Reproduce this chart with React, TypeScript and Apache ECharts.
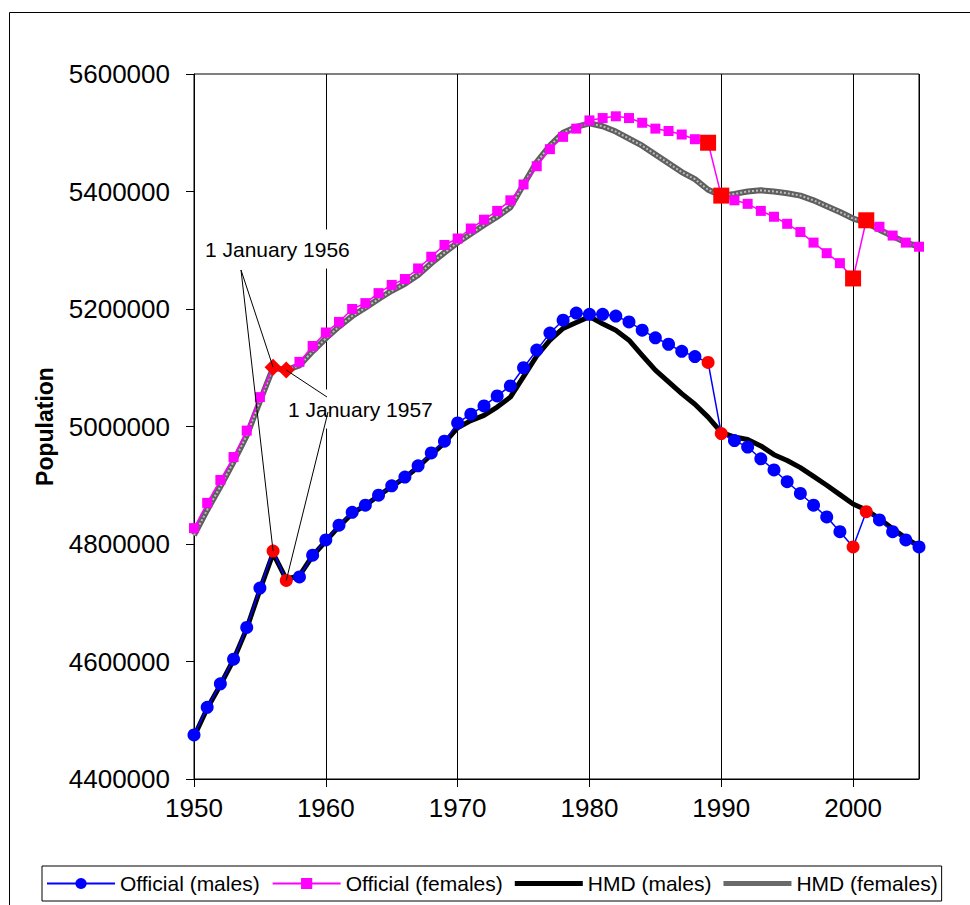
import React, { useEffect, useRef } from 'react';
import * as echarts from 'echarts';

const FONT = "'Liberation Sans', Arial, sans-serif";

const years = [
  1950, 1951, 1952, 1953, 1954, 1955, 1956, 1957, 1958, 1959,
  1960, 1961, 1962, 1963, 1964, 1965, 1966, 1967, 1968, 1969,
  1970, 1971, 1972, 1973, 1974, 1975, 1976, 1977, 1978, 1979,
  1980, 1981, 1982, 1983, 1984, 1985, 1986, 1987, 1988, 1989,
  1990, 1991, 1992, 1993, 1994, 1995, 1996, 1997, 1998, 1999,
  2000, 2001, 2002, 2003, 2004, 2005,
];

const officialMales = [
  4475000, 4522000, 4562000, 4604000, 4658000, 4725000, 4788000, 4738000, 4744000, 4781000,
  4807000, 4832000, 4854000, 4866000, 4883000, 4899000, 4914000, 4933000, 4955000, 4975000,
  5006000, 5021000, 5035000, 5052000, 5069000, 5100000, 5130000, 5159000, 5181000, 5193000,
  5191000, 5191000, 5188000, 5178000, 5164000, 5151000, 5140000, 5128000, 5119000, 5109000,
  4988000, 4976000, 4965000, 4945000, 4926000, 4906000, 4886000, 4866000, 4846000, 4821000,
  4795000, 4855000, 4841000, 4821000, 4807000, 4795000,
];

const officialFemales = [
  4827000, 4870000, 4909000, 4948000, 4993000, 5050000, 5101000, 5096000, 5110000, 5137000,
  5160000, 5178000, 5200000, 5210000, 5227000, 5241000, 5251000, 5269000, 5289000, 5309000,
  5320000, 5337000, 5352000, 5367000, 5385000, 5412000, 5443000, 5472000, 5493000, 5507000,
  5521000, 5525000, 5528000, 5525000, 5517000, 5507000, 5503000, 5497000, 5489000, 5483000,
  5393000, 5385000, 5379000, 5367000, 5357000, 5345000, 5331000, 5313000, 5295000, 5278000,
  5252000, 5351000, 5340000, 5325000, 5313000, 5306000,
];

const hmdMales = [
  4472000, 4520000, 4560000, 4603000, 4656000, 4722000, 4784000, 4740000, 4746000, 4780000,
  4805000, 4830000, 4852000, 4866000, 4882000, 4898000, 4913000, 4931000, 4952000, 4972000,
  4998000, 5010000, 5019000, 5033000, 5050000, 5085000, 5120000, 5147000, 5167000, 5177000,
  5187000, 5175000, 5164000, 5147000, 5121000, 5096000, 5076000, 5056000, 5038000, 5016000,
  4990000, 4982000, 4978000, 4967000, 4952000, 4942000, 4930000, 4915000, 4900000, 4884000,
  4868000, 4858000, 4843000, 4826000, 4810000, 4796000,
];

const hmdFemales = [
  4815000, 4858000, 4898000, 4940000, 4985000, 5043000, 5100000, 5096000, 5104000, 5128000,
  5150000, 5170000, 5188000, 5202000, 5217000, 5231000, 5243000, 5258000, 5278000, 5296000,
  5313000, 5328000, 5343000, 5357000, 5373000, 5412000, 5450000, 5478000, 5500000, 5510000,
  5516000, 5511000, 5502000, 5490000, 5478000, 5463000, 5448000, 5433000, 5421000, 5403000,
  5393000, 5396000, 5400000, 5402000, 5400000, 5397000, 5393000, 5385000, 5375000, 5365000,
  5354000, 5347000, 5335000, 5324000, 5313000, 5306000,
];

// years whose official values are highlighted in red
const highlightYears = [1956, 1957, 1989, 1990, 2000, 2001];
const diamondYears = [1956, 1957];

const seriesNames = ['Official (males)', 'Official (females)', 'HMD (males)', 'HMD (females)'];
const yTicks = { min: 4400000, max: 5600000, step: 200000 };
const xTicks = { min: 1950, max: 2005, step: 10 };

export default function App() {
  const ref = useRef<HTMLDivElement>(null);

  useEffect(() => {
    document.body.style.margin = '0';
    const chart = echarts.init(ref.current!, null, { renderer: 'svg' });

    const maleData = years.map((y, i) => {
      const v = officialMales[i];
      if (highlightYears.includes(y)) {
        return { value: [y, v], itemStyle: { color: '#FF0000' } };
      }
      return [y, v];
    });
    const femaleData = years.map((y, i) => {
      const v = officialFemales[i];
      if (diamondYears.includes(y)) {
        return { value: [y, v], symbol: 'diamond', symbolSize: 17, itemStyle: { color: '#FF0000' } };
      }
      if (highlightYears.includes(y)) {
        return { value: [y, v], symbol: 'rect', symbolSize: 16, itemStyle: { color: '#FF0000' } };
      }
      return [y, v];
    });
    const hmdMaleData = years.map((y, i) => [y, hmdMales[i]]);
    const hmdFemaleData = years.map((y, i) => [y, hmdFemales[i]]);

    chart.setOption({
      animation: false,
      backgroundColor: '#ffffff',
      textStyle: { fontFamily: FONT },
      grid: {
        left: 194,
        top: 74,
        right: 51,
        bottom: 126,
        show: true,
        borderColor: '#000',
        borderWidth: 1,
        containLabel: false,
      },
      xAxis: {
        type: 'value',
        min: xTicks.min,
        max: xTicks.max,
        interval: xTicks.step,
        axisLine: { show: true, lineStyle: { color: '#000', width: 1 } },
        axisTick: { show: true, length: 8, lineStyle: { color: '#000' } },
        axisLabel: {
          fontSize: 26,
          color: '#000',
          margin: 16,
          fontFamily: FONT,
          showMaxLabel: false,
          formatter: (v: number) => String(v),
        },
        splitLine: { show: true, lineStyle: { color: '#000', width: 1 } },
      },
      yAxis: {
        type: 'value',
        min: yTicks.min,
        max: yTicks.max,
        interval: yTicks.step,
        axisLine: { show: true, lineStyle: { color: '#000', width: 1 } },
        axisTick: { show: true, length: 8, lineStyle: { color: '#000' } },
        axisLabel: {
          fontSize: 26,
          color: '#000',
          margin: 24,
          fontFamily: FONT,
          formatter: (v: number) => String(v),
        },
        splitLine: { show: false },
        name: 'Population',
        nameLocation: 'middle',
        nameGap: 138,
        nameTextStyle: { fontSize: 23, fontWeight: 'bold', color: '#000', fontFamily: FONT },
      },
      legend: {
        data: [
          { name: seriesNames[0] },
          { name: seriesNames[1] },
          { name: seriesNames[2], icon: 'path://M0 0H68V5H0Z' },
          { name: seriesNames[3], icon: 'path://M0 0H68V5H0Z' },
        ],
        left: 42,
        top: 866,
        itemWidth: 68,
        itemHeight: 14,
        itemGap: 12,
        symbolKeepAspect: true,
        padding: [7, 4],
        borderColor: '#000',
        borderWidth: 1,
        textStyle: { fontSize: 21, color: '#000', fontFamily: FONT },
      },
      series: [
        {
          name: seriesNames[0],
          type: 'line',
          data: maleData,
          symbol: 'circle',
          symbolSize: 13,
          itemStyle: { color: '#0000FF' },
          lineStyle: { color: '#0000FF', width: 1.5 },
          z: 5,
        },
        {
          name: seriesNames[1],
          type: 'line',
          data: femaleData,
          symbol: 'rect',
          symbolSize: 10,
          itemStyle: { color: '#FF00FF' },
          lineStyle: { color: '#FF00FF', width: 1.5 },
          z: 5,
        },
        {
          name: seriesNames[2],
          type: 'line',
          data: hmdMaleData,
          symbol: 'none',
          itemStyle: { color: '#000' },
          lineStyle: { color: '#000', width: 5, join: 'round' },
          z: 4,
        },
        {
          name: seriesNames[3],
          type: 'line',
          data: hmdFemaleData,
          symbol: 'none',
          itemStyle: { color: '#6a6a6a' },
          lineStyle: { color: '#5f5f5f', width: 6, join: 'round' },
          z: 3,
        },
        {
          name: 'HMD (females) texture',
          type: 'line',
          data: hmdFemaleData,
          symbol: 'none',
          silent: true,
          itemStyle: { color: '#bdbdbd' },
          lineStyle: { color: '#bdbdbd', width: 2, type: [2, 2] },
          z: 3,
        },
      ],
    });

    const px = (year: number, arr: number[]) =>
      chart.convertToPixel({ gridIndex: 0 }, [year, arr[years.indexOf(year)]]) as number[];

    const f56 = px(1956, officialFemales);
    const f57 = px(1957, officialFemales);
    const m56 = px(1956, officialMales);
    const m57 = px(1957, officialMales);

    const lineEl = (a: number[], b: number[]) => ({
      type: 'line',
      z: 60,
      silent: true,
      shape: { x1: a[0], y1: a[1], x2: b[0], y2: b[1] },
      style: { stroke: '#000', lineWidth: 1 },
    });

    chart.setOption({
      graphic: [
        {
          type: 'rect',
          z: 0,
          silent: true,
          shape: { x: 9.5, y: 12.5, width: 1000, height: 1000 },
          style: { fill: 'none', stroke: '#000', lineWidth: 1 },
        },
        {
          type: 'text',
          z: 50,
          x: 203,
          y: 249,
          style: {
            text: '1 January 1956',
            fontSize: 21,
            fontFamily: FONT,
            fill: '#000',
            backgroundColor: '#fff',
            padding: [9, 2],
            verticalAlign: 'middle',
          },
        },
        {
          type: 'text',
          z: 50,
          x: 286,
          y: 409,
          style: {
            text: '1 January 1957',
            fontSize: 21,
            fontFamily: FONT,
            fill: '#000',
            backgroundColor: '#fff',
            padding: [9, 2],
            verticalAlign: 'middle',
          },
        },
        lineEl([241, 270], f56),
        lineEl([241, 270], m56),
        lineEl(f57, [327, 397]),
        lineEl([328, 412], m57),
      ],
    });

    return () => chart.dispose();
  }, []);

  return <div ref={ref} style={{ width: 970, height: 905 }} />;
}
